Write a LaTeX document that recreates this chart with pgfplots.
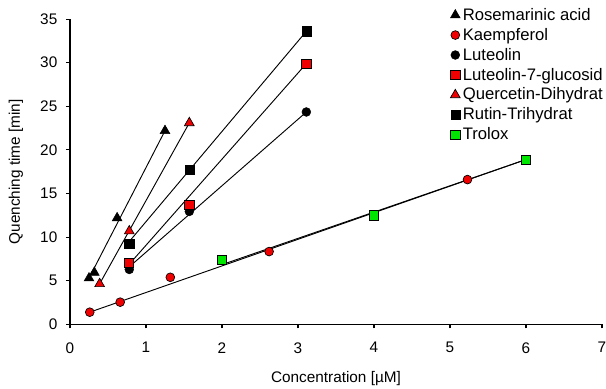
\documentclass[border=0pt]{standalone}
\usepackage{fontspec}
\setmainfont{Liberation Sans}
\usepackage{pgfplots}
\pgfplotsset{compat=1.18}
\definecolor{tgreen}{RGB}{0,230,0}
\definecolor{tred}{RGB}{240,0,0}
\begin{document}
\begin{tikzpicture}
\useasboundingbox (-52.5pt,-48.4pt) rectangle (402pt,243.3pt);
\begin{axis}[
  scale only axis, width=399pt, height=229pt,
  xmin=0, xmax=7, ymin=0, ymax=35,
  xtick={0,1,...,7}, ytick={0,5,...,35},
  axis x line*=bottom, axis y line*=left,
  axis line style={line width=0.8pt, -},
  tick align=outside, major tick length=3pt,
  tick style={line width=0.8pt, black},
  /pgf/number format/assume math mode=true,
  tick label style={font=\fontsize{11.5}{13}\selectfont},
  xticklabel style={yshift=-7pt},
  yticklabel style={xshift=-3pt},
  label style={font=\fontsize{11.5}{13}\selectfont},
  xlabel={Concentration [µM]},
  ylabel={Quenching time [min]},
  xlabel style={at={(axis description cs:0.5,-0.178)}, anchor=center},
  ylabel style={at={(axis description cs:-0.1015,0.5)}, anchor=center},
  clip=false,
  legend style={draw=none, fill=none, at={(axis cs:4.95,36.9)}, anchor=north west,
    font=\fontsize{12.5}{13}\selectfont, row sep=0.4pt,
    /tikz/every even column/.append style={column sep=0pt}},
  legend cell align=left,
  legend image code/.code={\draw[#1] plot coordinates {(0.1cm,0cm)};},
]
% markers
\addplot[only marks, mark=triangle*, mark size=4.2pt, black, mark options={fill=black}] coordinates {(0.25,5.3) (0.32,5.95) (0.62,12.2) (1.25,22.2)};
\addlegendentry{Rosemarinic acid}
\addplot[only marks, mark=*, mark size=3.3pt, black, mark options={fill=tred, line width=0.5pt}] coordinates {(0.26,1.4) (0.66,2.55) (1.32,5.4) (2.62,8.35) (5.23,16.6)};
\addlegendentry{Kaempferol}
\addplot[only marks, mark=*, mark size=3.3pt, black, mark options={fill=black}] coordinates {(0.78,6.3) (1.57,12.95) (3.11,24.35)};
\addlegendentry{Luteolin}
\addplot[only marks, mark=square*, mark size=3.4pt, black, mark options={fill=tred, line width=0.5pt}] coordinates {(0.78,7.1) (1.57,13.7) (3.11,29.9)};
\addlegendentry{Luteolin-7-glucosid}
\addplot[only marks, mark=triangle*, mark size=4.2pt, black, mark options={fill=tred, line width=0.5pt}] coordinates {(0.39,4.65) (0.78,10.7) (1.57,23.1)};
\addlegendentry{Quercetin-Dihydrat}
\addplot[only marks, mark=square*, mark size=3.4pt, black, mark options={fill=black}] coordinates {(0.78,9.25) (1.57,17.7) (3.11,33.6)};
\addlegendentry{Rutin-Trihydrat}
\addplot[only marks, mark=square*, mark size=3.4pt, black, mark options={fill=tgreen, line width=0.5pt}] coordinates {(2.0,7.4) (4.0,12.5) (6.0,18.9)};
\addlegendentry{Trolox}
% fitted lines
\addplot[forget plot, black, line width=0.7pt] coordinates {(0.25,5.3) (1.25,22.2)};
\addplot[forget plot, black, line width=0.7pt] coordinates {(0.26,1.4) (6.0,18.9)};
\addplot[forget plot, black, line width=0.7pt] coordinates {(0.78,6.6) (3.11,24.35)};
\addplot[forget plot, black, line width=0.7pt] coordinates {(0.78,6.9) (3.11,29.9)};
\addplot[forget plot, black, line width=0.7pt] coordinates {(0.39,4.65) (1.57,23.1)};
\addplot[forget plot, black, line width=0.7pt] coordinates {(0.78,9.5) (3.11,33.6)};
\addplot[forget plot, black, line width=0.7pt] coordinates {(2.0,6.85) (6.0,18.9)};
\end{axis}
\end{tikzpicture}
\end{document}
